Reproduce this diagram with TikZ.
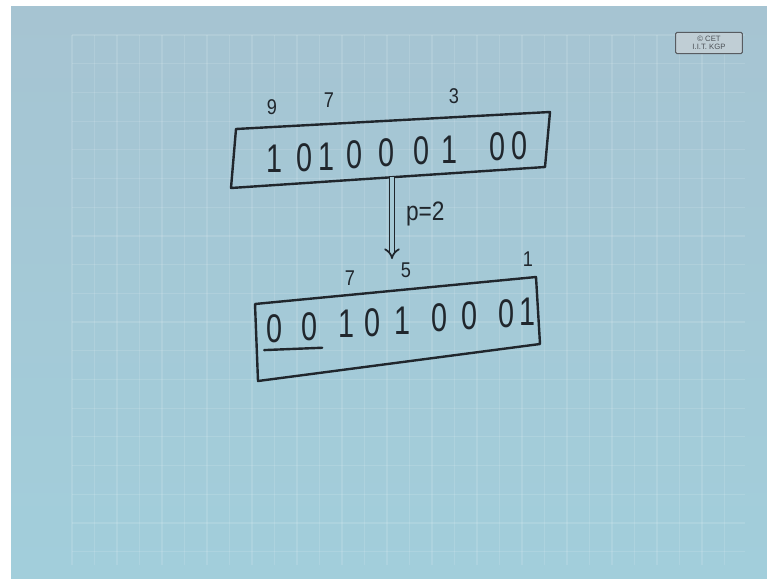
\documentclass[tikz,border=0pt]{standalone}
\usepackage{fontspec}
\setmainfont{Liberation Sans}
\usetikzlibrary{arrows.meta, positioning}

\definecolor{boardtop}{RGB}{166,196,210}
\definecolor{boardbot}{RGB}{162,206,219}
\definecolor{boardmid}{RGB}{166,202,214}
\definecolor{ink}{RGB}{32,38,44}
\definecolor{logofill}{RGB}{192,206,213}

\begin{document}
\begin{tikzpicture}[
        x=0.75pt, y=-0.75pt,
        reg/.style={draw=ink, line width=1.8pt, line cap=round, line join=round},
        bit/.style={text=ink, font=\fontsize{30}{30}\selectfont, inner sep=0pt, xscale=0.72},
        idx/.style={text=ink, font=\fontsize{16}{16}\selectfont, inner sep=0pt, xscale=0.85},
        gridline/.style={draw=white, opacity=0.12, line width=0.9pt},
        logo/.style={rectangle, draw=ink!75, fill=logofill, rounded corners=1pt, line width=0.8pt, minimum width=50pt, minimum height=16pt, inner sep=1pt, align=center, text=ink!80, font=\fontsize{5.8}{6}\selectfont},
        arrow/.style={draw=ink, line width=1.3pt, double=boardmid, double distance=2.6pt, -{Implies[length=7pt]}}
    ]
        \useasboundingbox (0,0) rectangle (767,578);
        \fill[white] (0,0) rectangle (767,578);
        \shade[top color=boardtop, bottom color=boardbot] (11,6) rectangle (767,578);
        \foreach \gx in {72,94.5,...,745} \draw[gridline] (\gx,35) -- (\gx,565);
        \foreach \gy in {35,63.7,...,565} \draw[gridline] (72,\gy) -- (745,\gy);

        \node[logo] (cet) at (709,43) {\textcopyright{} CET\\I.I.T. KGP};

        % register before the shift
        \coordinate (topNW) at (236,129);
        \coordinate (topNE) at (550,112);
        \coordinate (topSE) at (545,167);
        \coordinate (topSW) at (231,188);
        \draw[reg] (topNW) -- (topNE) -- (topSE) -- (topSW) -- cycle;
        \foreach \x/\b [count=\i] in {275/1,305/0,327/1,355/0,387/0,422/0,450/1,498/0,520/0}
            \node[bit] (tb\i) at (\x,{159-(\x-275)*0.053}) {\b};
        \node[idx] (ti9) at (272,107) {9};
        \node[idx] (ti7) at (329,100) {7};
        \node[idx] (ti3) at (454,96) {3};

        % register after the shift
        \coordinate (botNW) at (255,304);
        \coordinate (botNE) at (536,277);
        \coordinate (botSE) at (540,344);
        \coordinate (botSW) at (258,381);
        \draw[reg] (botNW) -- (botNE) -- (botSE) -- (botSW) -- cycle;
        \foreach \x/\b [count=\i] in {275/0,310/0,347/1,373/0,403/1,440/0,470/0,507/0,528/1}
            \node[bit] (bb\i) at (\x,{329-(\x-275)*0.067}) {\b};
        \draw[reg] ([yshift=-5pt, xshift=-2pt]bb1.south west) -- ([yshift=-5pt, xshift=3pt]bb2.south east);
        \node[idx] (bi7) at (350,278) {7};
        \node[idx] (bi5) at (406,270) {5};
        \node[idx] (bi1) at (528,259) {1};

        \coordinate (arrtop) at (392,177);
        \coordinate (arrbot) at (392,259);
        \draw[arrow] (arrtop) -- node[pos=0.45, right=10pt, text=ink, font=\fontsize{20}{20}\selectfont, inner sep=0pt, xscale=0.85] (plabel) {p=2} (arrbot);
    \end{tikzpicture}
\end{document}
